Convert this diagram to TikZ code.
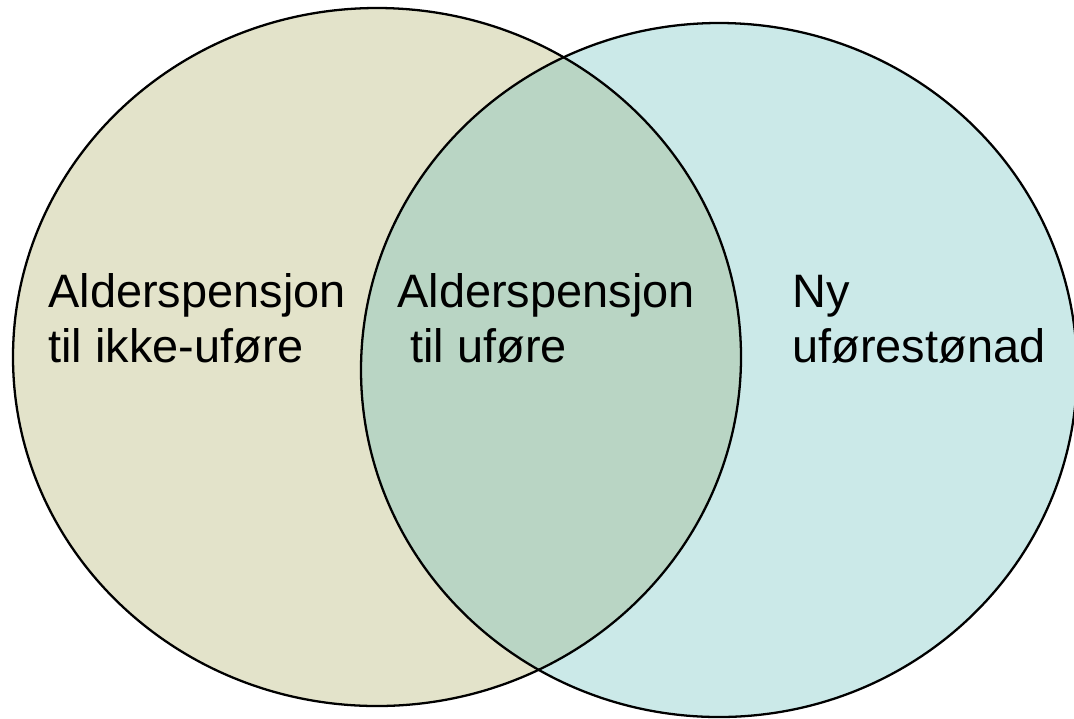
\documentclass[tikz,border=0pt]{standalone}
\usepackage{fontspec}
\setmainfont{Liberation Sans}
\definecolor{alderfill}{RGB}{227,227,202}
\definecolor{uforefill}{RGB}{203,233,232}
\definecolor{bothfill}{RGB}{185,213,196}
\tikzset{
  ring/.style={draw=black, line width=1.3pt},
  label/.style={anchor=base west, inner sep=0pt, align=left,
    font=\fontsize{26.7pt}{31.3pt}\selectfont}
}
\begin{document}
\begin{tikzpicture}[x=0.02cm, y=-0.02cm]
      \useasboundingbox (0,0) rectangle (1074,718);
      \fill[alderfill] (377,357) ellipse [x radius=364, y radius=349];
      \fill[uforefill] (719,370) ellipse [x radius=358, y radius=347];
      \begin{scope}
        \clip (377,357) ellipse [x radius=364, y radius=349];
        \fill[bothfill] (719,370) ellipse [x radius=358, y radius=347];
      \end{scope}
      \draw[ring] (377,357) ellipse [x radius=364, y radius=349];
      \draw[ring] (719,370) ellipse [x radius=358, y radius=347];
      \draw
        (48,362) node[label] (ikke) {Alderspensjon\\til ikke-uføre}
        (397,362) node[label] (begge) {Alderspensjon\\\hspace*{.28em}til uføre}
        (792,362) node[label] (ny) {Ny\\uførestønad};
    \end{tikzpicture}
\end{document}
